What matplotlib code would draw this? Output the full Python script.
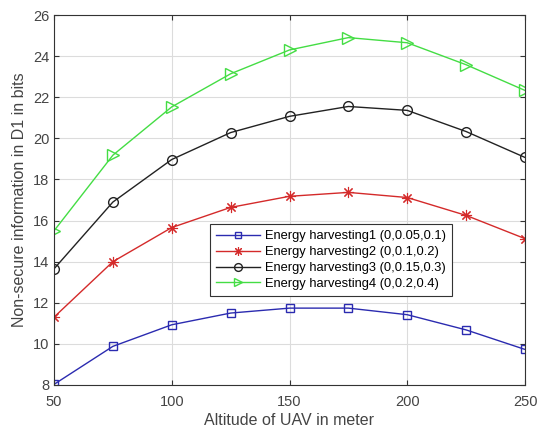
import matplotlib.pyplot as plt

plt.rcParams['font.family'] = ['Liberation Sans', 'DejaVu Sans']

altitude = [50, 75, 100, 125, 150, 175, 200, 225, 250]
eh1 = [8.03, 9.88, 10.93, 11.5, 11.74, 11.74, 11.42, 10.68, 9.73]
eh2 = [11.3, 14.0, 15.66, 16.64, 17.18, 17.37, 17.12, 16.25, 15.12]
eh3 = [13.65, 16.9, 18.97, 20.28, 21.07, 21.55, 21.36, 20.33, 19.07]
eh4 = [15.5, 19.18, 21.53, 23.14, 24.3, 24.9, 24.65, 23.58, 22.33]
labels = ["Energy harvesting1 (0,0.05,0.1)",
          "Energy harvesting2 (0,0.1,0.2)",
          "Energy harvesting3 (0,0.15,0.3)",
          "Energy harvesting4 (0,0.2,0.4)"]

fig = plt.figure(figsize=(5.37, 4.34), dpi=100)
ax = fig.add_axes([54 / 537, 49 / 434, 471 / 537, 370 / 434])

ax.plot(altitude, eh1, color="#2b2bb0", marker="s", ms=6, mfc="none", lw=1, label=labels[0])
ax.plot(altitude, eh2, color="#d42a2a", marker=(8, 2, 0), ms=8, mew=0.8, lw=1, label=labels[1])
ax.plot(altitude, eh3, color="#222222", marker="o", ms=7, mfc="none", lw=1, label=labels[2])
ax.plot(altitude, eh4, color="#44dd44", marker=">", ms=8, mfc="none", lw=1, label=labels[3])

ax.set_xlim(50, 250)
ax.set_ylim(8, 26)
ax.set_xticks([50, 100, 150, 200, 250])
ax.set_yticks(range(8, 27, 2))
ax.grid(True, color="#dcdcdc", lw=0.8)
ax.tick_params(direction="in", top=True, right=True, labelsize=10.5, colors="#333333",
               labelcolor="#444444")
ax.tick_params(axis="x", pad=7)
for s in ax.spines.values():
    s.set_color("#333333")
    s.set_linewidth(0.8)

ax.set_xlabel("Altitude of UAV in meter", fontsize=11.5, color="#444444", labelpad=3)
ax.set_ylabel("Non-secure information in D1 in bits", fontsize=11.5, color="#444444")

leg = ax.legend(loc="lower left", bbox_to_anchor=(0.331, 0.241), fontsize=9.3,
                fancybox=False, edgecolor="#333333", framealpha=1,
                borderaxespad=0, handlelength=3.4, labelspacing=0.3,
                borderpad=0.45, handletextpad=0.4, markerscale=0.8)
leg.get_frame().set_linewidth(0.8)

fig.savefig("out.png", dpi=100)
